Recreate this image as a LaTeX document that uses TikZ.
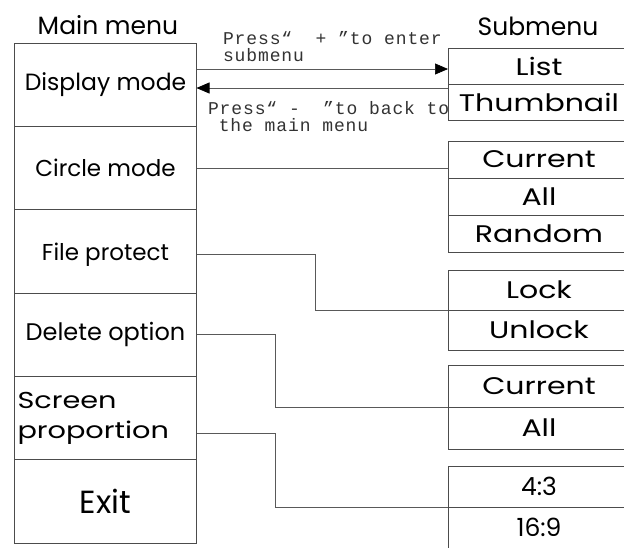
\documentclass[tikz,border=0pt]{standalone}
\usepackage{fontspec}
\setmainfont{Poppins}
\newfontfamily\widefont[FakeStretch=1.25]{Poppins}
\newfontfamily\notefont[LetterSpace=5]{Liberation Mono}
\usetikzlibrary{arrows.meta,positioning,calc}

\begin{document}
\begin{tikzpicture}[
    x=1pt, y=-1pt,
    node distance=0pt,
    every node/.style={inner sep=0pt, outer sep=0pt},
    mainbox/.style={rectangle, draw=black!70, line width=0.8pt, minimum width=182pt, minimum height=83.33pt, font=\fontsize{#1}{#1}\selectfont},
    mainbox/.default=23,
    subbox/.style={rectangle, draw=black!70, line width=0.8pt, minimum width=182pt, minimum height=#1, font=\widefont\fontsize{24}{28}\selectfont},
    title/.style={font=\fontsize{25}{28}\selectfont, anchor=base},
    note/.style={font=\notefont\fontsize{18}{17.5}\selectfont, text=black!80, align=left, anchor=north west},
    link/.style={draw=black!65, line width=0.7pt},
    navarrow/.style={link, -{Triangle[length=13pt,width=11pt,color=black]}},
]
\useasboundingbox (0,0) rectangle (624,547);
\clip (0,0) rectangle (624,547);
\fill[white] (0,0) rectangle (624,547);

% Titles
\node[title] (maintitle) at (108,34) {Main menu};
\node[title] (subtitle) at (538,35) {Submenu};

% Main menu column
\node[mainbox=23.5] (disp) at (105.5,84.67) {Display mode};
\node[mainbox, below=of disp] (circ) {Circle mode};
\node[mainbox, below=of circ, text depth=-6pt] (file) {File protect};
\node[mainbox=24, below=of file] (del) {Delete option};
\node[mainbox, below=of del, text width=176pt, align=left,
      font=\widefont\fontsize{23}{30}\selectfont] (scr) {Screen\\proportion};
\node[mainbox=32, below=of scr] (exit) {Exit};

% Submenu groups
\node[subbox=36pt] (list) at (539,66) {List};
\node[subbox=36pt, below=of list] (thumb) {Thumbnail};

\node[subbox=37pt] (cur1) at (539,159.5) {Current};
\node[subbox=37pt, below=of cur1] (all1) {All};
\node[subbox=37pt, below=of all1] (rand) {Random};

\node[subbox=40pt] (lock) at (539,290) {Lock};
\node[subbox=40pt, below=of lock] (unlock) {Unlock};

\node[subbox=42pt] (cur2) at (539,386) {Current};
\node[subbox=42pt, below=of cur2] (all2) {All};

\node[subbox=41pt, font=\fontsize{25}{28}\selectfont] (ratioA) at (539,486.5) {4:3};
\node[subbox=41pt, font=\fontsize{25}{28}\selectfont, below=of ratioA] (ratioB) {16:9};

% Notes
\node[note] (enter) at (223,31) {Press“~~+~”to enter\\submenu};
\node[note] (leave) at (208,101) {Press“~-~~”to back to\\\hspace*{0.6em}the main menu};

% Enter / back arrows
\coordinate (go) at ([yshift=-3pt]list.west);
\draw[navarrow] (go -| disp.east) -- (go);
\coordinate (back) at ([yshift=-4pt]thumb.north west);
\draw[navarrow] (back) -- (back -| disp.east);

% Links to submenus
\coordinate (foldA) at (315,0);
\coordinate (foldB) at (275,0);
\draw[link] (circ.east) -- (circ.east -| cur1.west);
\draw[link] ([yshift=-3pt]file.east) -| (foldA |- lock.south west) -- (lock.south west);
\draw[link] (del.east) -| (foldB |- cur2.south west) -- (cur2.south west);
\draw[link] ([yshift=-15pt]scr.east) -| (foldB |- ratioA.south west) -- (ratioA.south west);

\end{tikzpicture}
\end{document}
